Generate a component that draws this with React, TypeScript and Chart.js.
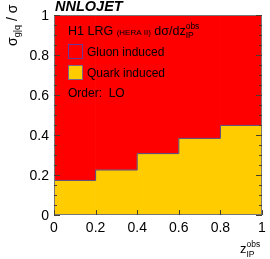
import React, { useEffect, useRef } from "react";
import { Chart, registerables } from "chart.js";

Chart.register(...registerables);

// ---- data ----
const binEdges = [0, 0.2, 0.4, 0.6, 0.8, 1.0];
const binCenters = [0.1, 0.3, 0.5, 0.7, 0.9];
const quarkFraction = [0.173, 0.225, 0.307, 0.383, 0.448];
const gluonFraction = [0.827, 0.775, 0.693, 0.617, 0.552];
const yTickValues = [0, 0.2, 0.4, 0.6, 0.8, 1];
const yTickLabels = ["0", "0.2", "0.4", "0.6", "0.8", "1"];
const xTickValues = [0, 0.2, 0.4, 0.6, 0.8, 1];
const xTickLabels = ["0", "0.2", "0.4", "0.6", "0.8", "1"];
const yMinorStep = 0.05;

const RED = "#ff0000";
const YELLOW = "#ffcc00";
const OUTLINE = "#554488";
const FONT = '"Liberation Sans", Arial, Helvetica, sans-serif';

type Seg = { t: string; size: number; dy?: number; style?: string; back?: boolean };

function drawRich(ctx: CanvasRenderingContext2D, x: number, y: number, segs: Seg[]) {
  let cx = x;
  let lastStart = x;
  for (const s of segs) {
    ctx.font = `${s.style ? s.style + " " : ""}${s.size}px ${FONT}`;
    const start = s.back ? lastStart : cx;
    ctx.fillText(s.t, start, y + (s.dy || 0));
    const w = ctx.measureText(s.t).width;
    lastStart = start;
    cx = Math.max(cx, start + w);
  }
  return cx;
}

const overlay = {
  id: "overlay",
  afterDraw(chart: any) {
    const ctx: CanvasRenderingContext2D = chart.ctx;
    const { left, right, top, bottom } = chart.chartArea;
    const xs = chart.scales.x;
    const ys = chart.scales.y;
    ctx.save();

    // frame
    ctx.strokeStyle = "#777777";
    ctx.lineWidth = 1;
    ctx.strokeRect(left + 0.5, top + 0.5, right - left - 1, bottom - top - 1);

    // y ticks (left and right)
    ctx.strokeStyle = "#4a4030";
    ctx.beginPath();
    for (let v = 0; v <= 1.0001; v += yMinorStep) {
      const py = Math.round(ys.getPixelForValue(v)) + 0.5;
      const major = yTickValues.some((t) => Math.abs(t - v) < 1e-6);
      const len = major ? 6 : 3;
      ctx.moveTo(left, py);
      ctx.lineTo(left + len, py);
      ctx.moveTo(right, py);
      ctx.lineTo(right - len, py);
    }
    // x ticks (bottom)
    for (const v of xTickValues) {
      const px = Math.round(xs.getPixelForValue(v)) + 0.5;
      ctx.moveTo(px, bottom);
      ctx.lineTo(px, bottom - 5);
    }
    ctx.stroke();

    // tick labels
    ctx.fillStyle = "#000";
    ctx.font = `14px ${FONT}`;
    ctx.textAlign = "right";
    ctx.textBaseline = "middle";
    yTickValues.forEach((v, i) => {
      ctx.fillText(yTickLabels[i], left - 5, ys.getPixelForValue(v) + 1);
    });
    ctx.textAlign = "center";
    xTickValues.forEach((v, i) => {
      ctx.fillText(xTickLabels[i], xs.getPixelForValue(v), bottom + 13);
    });

    // NNLOJET
    ctx.textAlign = "left";
    ctx.textBaseline = "alphabetic";
    ctx.font = `italic bold 14.5px ${FONT}`;
    ctx.fillText("NNLOJET", left + 1, 11);

    // x title
    drawRich(ctx, 240, 253, [
      { t: "z", size: 13 },
      { t: "obs", size: 8.5, dy: -6 },
      { t: "IP", size: 8.5, dy: 4, back: true },
    ]);

    // y title (rotated)
    ctx.save();
    ctx.translate(17, 46);
    ctx.rotate(-Math.PI / 2);
    drawRich(ctx, 0, 0, [
      { t: "σ", size: 14 },
      { t: "g|q", size: 9, dy: 3 },
      { t: " / σ", size: 14 },
    ]);
    ctx.restore();

    // legend block
    const lx = 68;
    drawRich(ctx, lx, 35, [
      { t: "H1 LRG ", size: 12.5 },
      { t: "(HERA II)", size: 8 },
      { t: " dσ/dz", size: 12.5 },
      { t: "obs", size: 8.5, dy: -6 },
      { t: "IP", size: 8.5, dy: 3, back: true },
    ]);
    const ds = chart.data.datasets;
    const gl = ds.find((d: any) => d.id === "gluon");
    const qk = ds.find((d: any) => d.id === "quark");
    const entries = [
      { d: gl, y: 44, border: "#6a3a9a" },
      { d: qk, y: 65, border: "#7a6a88" },
    ];
    for (const e of entries) {
      ctx.fillStyle = e.d.backgroundColor;
      ctx.fillRect(lx, e.y, 14, 14);
      ctx.strokeStyle = e.border;
      ctx.lineWidth = 1;
      ctx.strokeRect(lx + 0.5, e.y + 0.5, 14, 14);
      ctx.fillStyle = "#000";
      ctx.font = `12px ${FONT}`;
      ctx.fillText(e.d.label, 87, e.y + 12);
    }
    ctx.font = `12px ${FONT}`;
    ctx.fillText("Order:  LO", lx, 97);

    ctx.restore();
  },
};

export default function App() {
  const ref = useRef<HTMLCanvasElement | null>(null);
  useEffect(() => {
    if (!ref.current) return;
    const outline = binEdges.map((x, i) => ({
      x,
      y: quarkFraction[Math.min(i, quarkFraction.length - 1)],
    }));
    const chart = new Chart(ref.current, {
      type: "bar",
      data: {
        datasets: [
          {
            type: "line",
            label: "outline",
            data: outline,
            stepped: "before",
            borderColor: OUTLINE,
            borderWidth: 1,
            pointRadius: 0,
            fill: false,
            order: 0,
          } as any,
          {
            id: "quark",
            label: "Quark induced",
            data: binCenters.map((x, i) => ({ x, y: quarkFraction[i] })),
            backgroundColor: YELLOW,
            borderWidth: 0,
            barPercentage: 1,
            categoryPercentage: 1,
            grouped: false,
            order: 1,
          } as any,
          {
            id: "gluon",
            label: "Gluon induced",
            data: binCenters.map((x, i) => ({
              x,
              y: [quarkFraction[i], quarkFraction[i] + gluonFraction[i]],
            })),
            backgroundColor: RED,
            borderWidth: 0,
            barPercentage: 1,
            categoryPercentage: 1,
            grouped: false,
            order: 2,
          } as any,
        ],
      },
      options: {
        responsive: false,
        animation: false,
        layout: { padding: { left: 54, right: 8, top: 15, bottom: 44 } },
        plugins: { legend: { display: false }, tooltip: { enabled: false } },
        scales: {
          x: { type: "linear", min: 0, max: 1, offset: false, display: false },
          y: { type: "linear", min: 0, max: 1, display: false },
        },
      },
      plugins: [overlay],
    });
    return () => chart.destroy();
  }, []);
  return (
    <div style={{ position: "absolute", left: 0, top: 0, width: 270, height: 259, background: "#fff" }}>
      <canvas ref={ref} width={270} height={259} style={{ display: "block" }} />
    </div>
  );
}
